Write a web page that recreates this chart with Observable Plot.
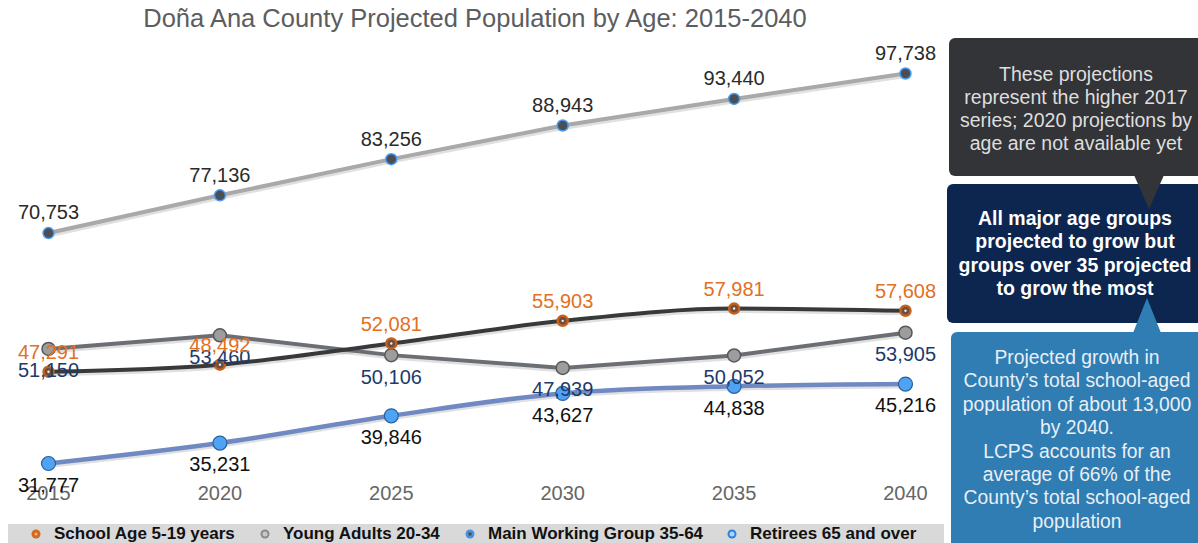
<!DOCTYPE html>
<html>
<head>
<meta charset="utf-8">
<script src="https://cdn.jsdelivr.net/npm/d3@7"></script>
<script src="https://cdn.jsdelivr.net/npm/@observablehq/plot@0.6"></script>
<style>
  html, body { margin: 0; padding: 0; background: #fff; overflow: hidden; }
  body { width: 1198px; height: 543px; position: relative; font-family: "Liberation Sans", Arial, sans-serif; }
  #title { position: absolute; left: 0; width: 950px; top: 4px; text-align: center; font-size: 25.5px; color: #5b5d60; }
  #chart { position: absolute; left: 0; top: 38px; }
  #legend { position: absolute; left: 8px; top: 524px; width: 936px; height: 20px; background: #d9d9d9; }
  .leg { position: absolute; top: 0; height: 19px; line-height: 19px; font-weight: bold; font-size: 17px; color: #111; white-space: nowrap; }
  .leg svg { position: absolute; left: -25px; top: 3px; }
  .box { position: absolute; border-radius: 6px; text-align: center; box-sizing: border-box; white-space: nowrap; }
  #box1 { left: 949px; top: 38px; width: 254px; height: 138px; background: #333438; color: #dedede; font-size: 19.5px; line-height: 23px; padding-top: 25px; }
  #box2 { left: 947px; top: 184px; width: 256px; height: 139px; background: #0c2650; color: #fff; font-weight: bold; font-size: 19.5px; line-height: 23.3px; padding-top: 23px; }
  #box3 { left: 951px; top: 332px; width: 252px; height: 230px; background: #2f7db3; color: #e9eff5; font-size: 19.3px; line-height: 23.4px; padding-top: 14px; }
  .tri { position: absolute; width: 0; height: 0; }
  #tri1 { left: 1134px; top: 175px; border-left: 15px solid transparent; border-right: 15px solid transparent; border-top: 34px solid #333438; z-index: 3; }
  #tri2 { left: 1133px; top: 298px; border-left: 14px solid transparent; border-right: 14px solid transparent; border-bottom: 35px solid #2f7db3; z-index: 3; }
</style>
</head>
<body>
<div id="title"></div>
<div id="chart"></div>
<div id="legend"></div>
<div id="box1" class="box"></div>
<div id="box2" class="box"></div>
<div id="box3" class="box"></div>
<div id="tri1" class="tri"></div>
<div id="tri2" class="tri"></div>
<script>
const titleText = "Doña Ana County Projected Population by Age: 2015-2040";
const years = [2015, 2020, 2025, 2030, 2035, 2040];
const schoolAge = [47291, 48492, 52081, 55903, 57981, 57608];
const youngAdults = [51150, 53460, 50106, 47939, 50052, 53905];
const mainWorking = [70753, 77136, 83256, 88943, 93440, 97738];
const retirees = [31777, 35231, 39846, 43627, 44838, 45216];
const seriesNames = ["School Age 5-19 years", "Young Adults 20-34", "Main Working Group 35-64", "Retirees 65 and over"];
const callout1 = ["These projections", "represent the higher 2017", "series; 2020 projections by", "age are not available yet"];
const callout2 = ["All major age groups", "projected to grow but", "groups over 35 projected", "to grow the most"];
const callout3 = ["Projected growth in", "County\u2019s total school-aged", "population of about 13,000", "by 2040.", "LCPS accounts for an", "average of 66% of the", "County\u2019s total school-aged", "population"];

const toRows = arr => years.map((y, i) => ({year: y, value: arr[i]}));
const school = toRows(schoolAge);
const young = toRows(youngAdults);
const main = toRows(mainWorking);
const retire = toRows(retirees);
const allValues = [...schoolAge, ...youngAdults, ...mainWorking, ...retirees];
const fmt = d3.format(",");

document.getElementById("title").textContent = titleText;

const shadow = {stroke: "#000", strokeOpacity: 0.12, strokeWidth: 5, dy: 2};

const chart = Plot.plot({
  width: 945,
  height: 480,
  marginLeft: 48,
  marginRight: 40,
  marginTop: 35,
  marginBottom: 55,
  style: {fontFamily: "Liberation Sans, Arial, sans-serif", background: "transparent"},
  x: {domain: [2015, 2040]},
  y: {domain: d3.extent(allValues), axis: null},
  marks: [
    Plot.axisX({ticks: years, tickFormat: d => String(d), tickSize: 0, tickPadding: 22, fontSize: 20, color: "#666", label: null}),
    Plot.line(main, {x: "year", y: "value", ...shadow}),
    Plot.line(young, {x: "year", y: "value", ...shadow}),
    Plot.line(school, {x: "year", y: "value", curve: "monotone-x", ...shadow}),
    Plot.line(retire, {x: "year", y: "value", curve: "monotone-x", ...shadow}),
    Plot.line(main, {x: "year", y: "value", stroke: "#a9a9a9", strokeWidth: 4}),
    Plot.line(young, {x: "year", y: "value", stroke: "#6b6e73", strokeWidth: 4}),
    Plot.line(school, {x: "year", y: "value", stroke: "#38393b", strokeWidth: 4, curve: "monotone-x"}),
    Plot.line(retire, {x: "year", y: "value", stroke: "#7189c2", strokeWidth: 4.5, curve: "monotone-x"}),
    Plot.dot(main, {x: "year", y: "value", r: 5.5, fill: "#4a4f57", stroke: "#4b9df0", strokeWidth: 1.5}),
    Plot.dot(young, {x: "year", y: "value", r: 6.5, fill: "#9d9d9d", stroke: "#55585c", strokeWidth: 1.5}),
    Plot.dot(school, {x: "year", y: "value", r: 5, fill: "#6a5040", stroke: "#c8601a", strokeWidth: 2.5}),
    Plot.dot(school, {x: "year", y: "value", r: 1.2, fill: "#eeeeee"}),
    Plot.dot(retire, {x: "year", y: "value", r: 7, fill: "#4fa3f5", stroke: "#2b5f9a", strokeWidth: 1.2}),
    Plot.text(main, {x: "year", y: "value", text: d => fmt(d.value), dy: -20, fontSize: 20, fill: "#2a2a2a"}),
    Plot.text(retire, {x: "year", y: "value", text: d => fmt(d.value), dy: 22, fontSize: 20, fill: "#111"}),
    Plot.text(young, {x: "year", y: "value", text: d => fmt(d.value), dy: 22, fontSize: 20, fill: "#1c3a6b"}),
    Plot.text(school, {x: "year", y: "value", text: d => fmt(d.value), dy: -19, fontSize: 20, fill: "#e2701f"})
  ]
});
document.getElementById("chart").appendChild(chart);

// legend
const legendSymbols = [
  {x: 54, outer: "#d2691e", r: 4.5, ir: 1.5, innerFill: "#f3b27a"},
  {x: 283, outer: "#8a8a8a", r: 4.5, ir: 2.5, innerFill: "#c8c8c8"},
  {x: 488, outer: "#4a90e2", r: 4.5, ir: 1.8, innerFill: "#4a4f57"},
  {x: 750, outer: "#2d7fe0", r: 4.5, ir: 2.5, innerFill: "#a8d4ff"}
];
const legend = document.getElementById("legend");
seriesNames.forEach((name, i) => {
  const s = legendSymbols[i];
  const item = document.createElement("div");
  item.className = "leg";
  item.style.left = (s.x - 8) + "px";
  item.innerHTML = `<svg width="14" height="14"><circle cx="7" cy="7" r="${s.r}" fill="${s.outer}"/><circle cx="7" cy="7" r="${s.ir}" fill="${s.innerFill}"/></svg>` + name;
  legend.appendChild(item);
});

document.getElementById("box1").innerHTML = callout1.join("<br>");
document.getElementById("box2").innerHTML = callout2.join("<br>");
document.getElementById("box3").innerHTML = callout3.join("<br>");
</script>
</body>
</html>
